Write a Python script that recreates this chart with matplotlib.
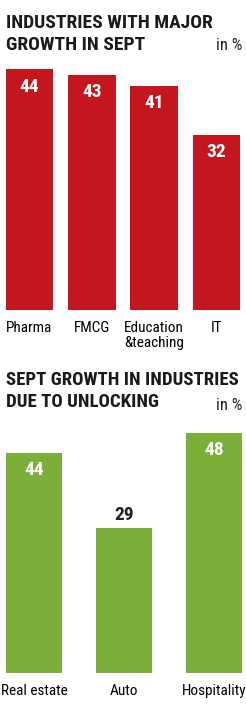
import matplotlib
matplotlib.use("Agg")
import matplotlib.pyplot as plt

# top chart data
top_title = "INDUSTRIES WITH MAJOR\nGROWTH IN SEPT"
top_cats = ["Pharma", "FMCG", "Education\n&teaching", "IT"]
top_vals = [44, 43, 41, 32]

# bottom chart data
bot_title = "SEPT GROWTH IN INDUSTRIES\nDUE TO UNLOCKING"
bot_cats = ["Real estate", "Auto", "Hospitality"]
bot_vals = [44, 29, 48]

RED = "#C3161F"
GREEN = "#7BAF3A"
W, H = 246, 705

plt.rcParams["font.family"] = ["Liberation Sans Narrow", "Roboto Condensed", "DejaVu Sans"]
fig = plt.figure(figsize=(W / 100, H / 100), dpi=100)


def px(x0, y0, x1, y1):
    # pixel box (top-left origin) -> figure fraction rect
    return [x0 / W, 1 - y1 / H, (x1 - x0) / W, (y1 - y0) / H]


def draw(ax, cats, vals, color, width, inside):
    xs = range(len(vals))
    ax.bar(xs, vals, width=width, color=color)
    for x, v, ins in zip(xs, vals, inside):
        if ins:
            ax.annotate(str(v), (x, v), xytext=(0, -6), textcoords="offset points",
                        ha="center", va="top", color="white", fontsize=14,
                        fontweight="bold")
        else:
            ax.annotate(str(v), (x, v), xytext=(0, 3), textcoords="offset points",
                        ha="center", va="bottom", color="#222222", fontsize=14,
                        fontweight="bold")
    ax.set_xticks(list(xs))
    ax.set_xticklabels(cats, fontsize=11, linespacing=1.05)
    ax.tick_params(axis="x", length=0, pad=8)
    ax.set_yticks([])
    for s in ax.spines.values():
        s.set_visible(False)


# top chart: baseline y=310px, 5.47 px per unit
ax1 = fig.add_axes(px(0, 310 - 50 * 5.47, 246, 310))
draw(ax1, top_cats, top_vals, RED, 0.76, [True, True, True, True])
ax1.set_xlim(-0.47, 3.47)
ax1.set_ylim(0, 50)

# bottom chart: baseline y=673px, 5.0 px per unit
ax2 = fig.add_axes(px(0, 673 - 55 * 5.0, 246, 673))
draw(ax2, bot_cats, bot_vals, GREEN, 0.62, [True, False, True])
ax2.set_xlim(-0.378, 2.356)
ax2.set_ylim(0, 55)

# multi-line baseline alignment uses the last line
fig.text(6 / W, 1 - 50 / H, top_title, ha="left", va="baseline", fontsize=14,
         fontweight="bold", color="#1a1a1a", linespacing=1.3)
fig.text(242 / W, 1 - 50 / H, "in %", ha="right", va="baseline", fontsize=12,
         color="#222222")
fig.text(6 / W, 1 - 407 / H, bot_title, ha="left", va="baseline", fontsize=13.5,
         fontweight="bold", color="#1a1a1a", linespacing=1.3)
fig.text(242 / W, 1 - 410 / H, "in %", ha="right", va="baseline", fontsize=12,
         color="#222222")

fig.savefig("out.png", dpi=100)
